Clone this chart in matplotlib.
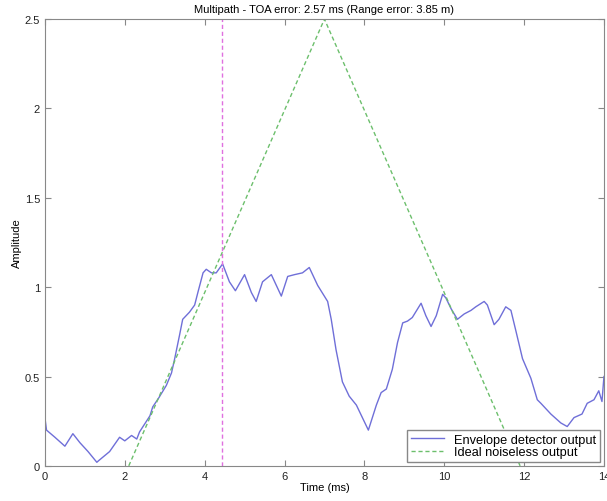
import matplotlib
matplotlib.use('Agg')
import matplotlib.pyplot as plt

plt.rcParams['font.family'] = ['Liberation Sans', 'DejaVu Sans']
plt.rcParams['font.size'] = 8

# envelope detector output
t_env = [0, 0.04, 0.25, 0.5, 0.7, 0.875, 1.08, 1.3, 1.35, 1.62, 1.87, 2.0, 2.17, 2.3, 2.37,
         2.63, 2.7, 2.85, 3.04, 3.17, 3.25, 3.37, 3.45, 3.62, 3.75, 3.83, 3.96, 4.04, 4.17,
         4.29, 4.45, 4.62, 4.77, 5.0, 5.17, 5.29, 5.45, 5.67, 5.92, 6.08, 6.25, 6.45, 6.62,
         6.83, 7.08, 7.17, 7.29, 7.45, 7.62, 7.8, 8.1, 8.3, 8.42, 8.55, 8.7, 8.83, 8.96, 9.08,
         9.2, 9.42, 9.54, 9.67, 9.8, 9.96, 10.04, 10.17, 10.33, 10.5, 10.67, 10.79, 11.0,
         11.08, 11.25, 11.37, 11.54, 11.67, 11.8, 11.96, 12.17, 12.33, 12.42, 12.67, 12.92,
         13.08, 13.25, 13.45, 13.58, 13.75, 13.87, 13.95, 14.0]
v_env = [0.27, 0.2, 0.16, 0.11, 0.18, 0.13, 0.08, 0.02, 0.03, 0.08, 0.16, 0.14, 0.17, 0.15, 0.19,
         0.28, 0.33, 0.38, 0.45, 0.52, 0.6, 0.73, 0.82, 0.86, 0.9, 0.97, 1.08, 1.1, 1.08,
         1.08, 1.13, 1.03, 0.98, 1.07, 0.97, 0.92, 1.03, 1.07, 0.95, 1.06, 1.07, 1.08, 1.11,
         1.01, 0.92, 0.82, 0.65, 0.47, 0.39, 0.34, 0.2, 0.34, 0.41, 0.43, 0.54, 0.69, 0.8, 0.81,
         0.83, 0.91, 0.84, 0.78, 0.84, 0.96, 0.94, 0.88, 0.82, 0.85, 0.87, 0.89, 0.92,
         0.9, 0.79, 0.82, 0.89, 0.87, 0.75, 0.6, 0.49, 0.37, 0.35, 0.29, 0.24,
         0.22, 0.27, 0.29, 0.35, 0.37, 0.42, 0.36, 0.5]

# ideal noiseless output (triangle)
t_ideal = [2.1, 7.0, 11.9]
v_ideal = [0.0, 2.5, 0.0]

# estimated TOA
t_toa = 4.43

fig = plt.figure(figsize=(6.07, 5.02), dpi=100)
ax = fig.add_axes([0.074, 0.07, 0.921, 0.89])

ax.plot(t_env, v_env, color='#6f6fd8', lw=1.0, label='Envelope detector output')
ax.plot(t_ideal, v_ideal, color='#6cbf6c', lw=1.0, ls=(0, (3, 2)), label='Ideal noiseless output')
ax.plot([t_toa, t_toa], [0, 2.5], color='#e070e0', lw=1.0, ls=(0, (3, 2)))

ax.set_xlim(0, 14)
ax.set_ylim(0, 2.5)
ax.set_xticks(range(0, 15, 2))
ax.set_yticks([0, 0.5, 1, 1.5, 2, 2.5])
ax.set_yticklabels(['0', '0.5', '1', '1.5', '2', '2.5'])
ax.tick_params(direction='in', top=True, right=True, length=4, color='#888888', labelcolor='#222222')
for s in ax.spines.values():
    s.set_color('#888888')

ax.set_title('Multipath - TOA error: 2.57 ms (Range error: 3.85 m)', fontsize=8, pad=5)
ax.set_xlabel('Time (ms)', labelpad=1)
ax.set_ylabel('Amplitude', labelpad=2)

leg = ax.legend(loc='lower right', fancybox=False, framealpha=1, borderaxespad=0.3,
                handlelength=2.6, borderpad=0.3, labelspacing=0.05, fontsize=9.2)
leg.get_frame().set_edgecolor('#888888')

fig.savefig('out.png', dpi=100)
